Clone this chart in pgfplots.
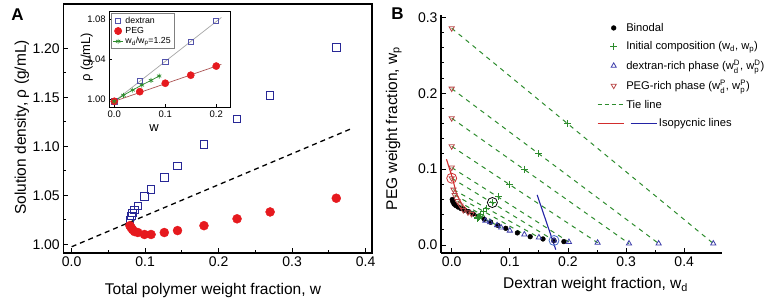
\documentclass[border=0pt]{standalone}
\usepackage{fontspec}
\setmainfont{Liberation Sans}
\usepackage{amsmath}
\usepackage{pgfplots}
\pgfplotsset{compat=1.18}
\definecolor{dexblue}{RGB}{40,40,150}
\definecolor{pegred}{RGB}{230,25,30}
\definecolor{tiegreen}{RGB}{45,140,45}
\definecolor{tridblue}{RGB}{60,60,170}
\definecolor{tribrown}{RGB}{185,70,70}
\definecolor{isored}{RGB}{210,45,45}
\definecolor{isoblue}{RGB}{35,35,165}
\definecolor{circblue}{RGB}{70,110,200}
\pgfplotsset{
 legB/.style={legend image code/.code={\path[draw=none,fill=none] (0pt,-2pt) rectangle (26pt,2pt); \draw[##1] plot coordinates {(16pt,0pt)};}},
 legBline/.style={legend image code/.code={\draw[##1] (0pt,0pt) -- (26pt,0pt);}},
 legBiso/.style={legend image code/.code={\draw[isored,line width=1.1pt] (0pt,0pt) -- (26pt,0pt); \draw[isoblue,line width=1.1pt,overlay] (33pt,0pt) -- (59pt,0pt);}},
}
\begin{document}
\begin{tikzpicture}
\path[use as bounding box] (0pt,0pt) rectangle (767pt,303pt);
% ---------------- Panel A main ----------------
\begin{axis}[
 at={(63.3pt,50pt)}, anchor=south west, scale only axis, width=308.7pt, height=249pt,
 xmin=-0.0114, xmax=0.4086, ymin=0.9911, ymax=1.2452,
 xtick={0,0.1,0.2,0.3,0.4}, ytick={1,1.05,1.1,1.15,1.2},
 minor x tick num=1, minor y tick num=1,
 tick pos=left, tick align=inside,
 major tick length=5pt, minor tick length=3pt,
 axis line style={line width=1.2pt},
 every tick/.style={black, line width=0.9pt},
 /pgf/number format/assume math mode=true,
 xticklabel style={/pgf/number format/fixed, /pgf/number format/fixed zerofill, /pgf/number format/precision=1},
 yticklabel style={/pgf/number format/fixed, /pgf/number format/fixed zerofill, /pgf/number format/precision=2},
 tick label style={font=\fontsize{14}{16}\selectfont},
 label style={font=\fontsize{15.5}{18}\selectfont},
 xlabel={Total polymer weight fraction, w},
 ylabel={Solution density, ρ (g/mL)},
 xlabel style={at={(axis description cs:0.485,-0.149)}, anchor=center},
 ylabel style={at={(axis description cs:-0.134,0.504)}, anchor=center},
]
\addplot[black, line width=1.3pt, dash pattern=on 5pt off 4pt] coordinates {(0,0.9975)(0.3796,1.1177)};
\addplot[only marks, mark=square, mark size=3.8pt, dexblue, mark options={line width=0.9pt}] table {
x y
0.360 1.201
0.270 1.152
0.225 1.128
0.180 1.102
0.144 1.080
0.126 1.068
0.108 1.056
0.099 1.049
0.090 1.039
0.0855 1.035
0.0828 1.032
0.0810 1.029
0.0792 1.025
};
\addplot[only marks, mark=*, mark size=4.5pt, pegred] table {
x y
0.360 1.047
0.270 1.033
0.225 1.026
0.180 1.019
0.144 1.014
0.126 1.012
0.108 1.010
0.099 1.010
0.090 1.012
0.0855 1.013
0.0828 1.015
0.0810 1.017
0.0792 1.019
};
\end{axis}
% ---------------- Panel A inset ----------------
\begin{axis}[
 at={(109.3pt,195.7pt)}, anchor=south west, scale only axis, width=120.7pt, height=96.3pt,
 xmin=-0.0098, xmax=0.227, ymin=0.992, ymax=1.088,
 xtick={0,0.1,0.2}, ytick={1,1.04,1.08},
 tick pos=left, tick align=inside, major tick length=3pt,
 axis background/.style={fill=white},
 axis line style={line width=0.9pt},
 every tick/.style={black, line width=0.7pt},
 /pgf/number format/assume math mode=true,
 xticklabel style={/pgf/number format/fixed, /pgf/number format/fixed zerofill, /pgf/number format/precision=1},
 yticklabel style={/pgf/number format/fixed, /pgf/number format/fixed zerofill, /pgf/number format/precision=2},
 tick label style={font=\fontsize{9.5}{11}\selectfont},
 label style={font=\fontsize{13}{15}\selectfont},
 xlabel={w}, ylabel={ρ (g/mL)},
 xlabel style={at={(axis description cs:0.37,-0.215)}, anchor=center},
 ylabel style={at={(axis description cs:-0.187,0.52)}, anchor=center},
 legend style={at={(axis description cs:0.014,0.979)}, anchor=north west, draw=gray, line width=0.6pt,
   font=\fontsize{8.8}{10}\selectfont, inner sep=1.5pt, row sep=-1.5pt},
 legend cell align=left,
 legend image code/.code={\draw[mark repeat=2,mark phase=2,#1] plot coordinates {(0pt,0pt)(5pt,0pt)(10pt,0pt)};},
]
\addplot[gray!70, line width=0.7pt, forget plot] coordinates {(0,0.998)(0.21,1.0815)};
\addplot[red!35!gray, line width=0.7pt, forget plot] coordinates {(0,0.998)(0.21,1.0348)};
\addplot[only marks, mark=square, mark size=2.6pt, dexblue!80, mark options={line width=0.7pt}] table {
x y
0 0.998
0.05 1.0185
0.10 1.0374
0.15 1.0573
0.20 1.0779
};
\addlegendentry{dextran}
\addplot[only marks, mark=*, mark size=3.6pt, pegred] table {
x y
0 0.998
0.05 1.0076
0.10 1.0160
0.15 1.0240
0.20 1.0331
};
\addlegendentry{PEG}
\addplot[tiegreen, line width=0.7pt, mark=asterisk, mark size=2.5pt] table {
x y
0 0.998
0.018 1.0040
0.036 1.0092
0.054 1.0142
0.072 1.0188
0.088 1.0232
};
\addlegendentry{w$_{\text{d}}$/w$_{\text{p}}$=1.25}
\end{axis}
% ---------------- Panel B ----------------
\begin{axis}[
 at={(441pt,50pt)}, anchor=south west, scale only axis, width=281pt, height=238pt,
 xmin=-0.0184, xmax=0.465, ymin=-0.0105, ymax=0.303,
 axis lines*=left, axis line style={line width=1.2pt, -},
 xtick={0,0.1,0.2,0.3,0.4}, ytick={0,0.1,0.2,0.3},
 minor x tick num=1, minor y tick num=4,
 tick align=inside, major tick length=5pt, minor tick length=3pt,
 every tick/.style={black, line width=0.9pt},
 /pgf/number format/assume math mode=true,
 xticklabel style={/pgf/number format/fixed, /pgf/number format/fixed zerofill, /pgf/number format/precision=1},
 yticklabel style={/pgf/number format/fixed, /pgf/number format/fixed zerofill, /pgf/number format/precision=1},
 tick label style={font=\fontsize{14}{16}\selectfont},
 label style={font=\fontsize{15.5}{18}\selectfont},
 xlabel={Dextran weight fraction, w\textsubscript{d}},
 ylabel={PEG weight fraction, w\textsubscript{p}},
 xlabel style={at={(axis description cs:0.55,-0.134)}, anchor=center},
 ylabel style={at={(axis description cs:-0.168,0.523)}, anchor=center},
 legend style={at={(axis description cs:0.555,0.975)}, anchor=north west, draw=none, fill=none,
   font=\fontsize{11.2}{13.2}\selectfont, row sep=5pt, inner sep=0pt},
 legend cell align=left,
]
% tie lines
\addplot[tiegreen, line width=1pt, dash pattern=on 4.5pt off 4.5pt, forget plot] coordinates {(0,0.2855)(0.45,0.002)};
\addplot[tiegreen, line width=1pt, dash pattern=on 4.5pt off 4.5pt, forget plot] coordinates {(0,0.206)(0.356,0.002)};
\addplot[tiegreen, line width=1pt, dash pattern=on 4.5pt off 4.5pt, forget plot] coordinates {(0,0.167)(0.305,0.002)};
\addplot[tiegreen, line width=1pt, dash pattern=on 4.5pt off 4.5pt, forget plot] coordinates {(0,0.130)(0.251,0.003)};
\addplot[tiegreen, line width=1pt, dash pattern=on 4.5pt off 4.5pt, forget plot] coordinates {(0,0.102)(0.2017,0.004)};
\addplot[tiegreen, line width=1pt, dash pattern=on 4.5pt off 4.5pt, forget plot] coordinates {(0,0.088)(0.176,0.006)};
\addplot[tiegreen, line width=1pt, dash pattern=on 4.5pt off 4.5pt, forget plot] coordinates {(0.003,0.073)(0.150,0.010)};
\addplot[tiegreen, line width=1pt, dash pattern=on 4.5pt off 4.5pt, forget plot] coordinates {(0.005,0.066)(0.125,0.014)};
\addplot[tiegreen, line width=1pt, dash pattern=on 4.5pt off 4.5pt, forget plot] coordinates {(0.010,0.058)(0.100,0.019)};
\addplot[tiegreen, line width=1pt, dash pattern=on 4.5pt off 4.5pt, forget plot] coordinates {(0.015,0.052)(0.085,0.023)};
\addplot[tiegreen, line width=1pt, dash pattern=on 4.5pt off 4.5pt, forget plot] coordinates {(0.020,0.046)(0.078,0.026)};
\addplot[tiegreen, line width=1pt, dash pattern=on 4.5pt off 4.5pt, forget plot] coordinates {(0.028,0.043)(0.066,0.030)};
\addplot[tiegreen, line width=1pt, dash pattern=on 4.5pt off 4.5pt, forget plot] coordinates {(0.034,0.041)(0.058,0.032)};
% binodal
\addplot[only marks, mark=*, mark size=2.4pt, black, forget plot] table {
x y
0.001 0.060
0.002 0.057
0.004 0.054
0.007 0.052
0.011 0.050
0.016 0.048
0.022 0.046
0.029 0.044
0.037 0.041
0.046 0.038
0.056 0.034
0.067 0.030
0.079 0.026
0.093 0.022
0.113 0.016
0.135 0.011
0.157 0.008
0.176 0.006
0.193 0.0045
};
% initial compositions
\addplot[only marks, mark=+, mark size=3.5pt, tiegreen, mark options={line width=1pt}, forget plot] table {
x y
0.200 0.160
0.150 0.120
0.125 0.100
0.100 0.080
0.080 0.064
0.070 0.056
0.060 0.048
0.055 0.044
0.050 0.040
0.0475 0.038
0.046 0.0368
0.045 0.036
0.044 0.0352
};
% dextran-rich phase
\addplot[only marks, mark=triangle, mark size=3pt, tridblue, mark options={line width=0.8pt}, forget plot] table {
x y
0.450 0.002
0.356 0.002
0.305 0.002
0.251 0.003
0.2017 0.004
0.176 0.006
0.150 0.010
0.125 0.014
0.100 0.019
0.085 0.023
0.078 0.026
0.066 0.030
0.058 0.032
};
% PEG-rich phase
\addplot[only marks, mark=triangle, mark size=3pt, tribrown, mark options={rotate=180, line width=0.8pt}, forget plot] table {
x y
0 0.2855
0 0.206
0 0.167
0 0.130
0 0.102
0 0.088
0.003 0.073
0.005 0.066
0.010 0.058
0.015 0.052
0.020 0.046
0.028 0.043
0.034 0.041
};
% isopycnic lines
\addplot[isored, line width=1.1pt, forget plot] coordinates {(-0.009,0.113)(0.001,0.089)(0.008,0.068)(0.018,0.053)(0.030,0.044)(0.042,0.038)};
\addplot[isoblue, line width=1.1pt, forget plot] coordinates {(0.147,0.066)(0.179,-0.006)};
% highlighted points
\addplot[only marks, mark=o, mark size=5pt, black, mark options={line width=0.8pt}, forget plot] coordinates {(0.070,0.056)};
\addplot[only marks, mark=o, mark size=5pt, isored, mark options={line width=0.8pt}, forget plot] coordinates {(0.0,0.088)};
\addplot[only marks, mark=o, mark size=5pt, circblue, mark options={line width=0.8pt}, forget plot] coordinates {(0.176,0.006)};
% legend
\addlegendimage{only marks, mark=*, mark size=2.4pt, black, legB}
\addlegendentry{Binodal}
\addlegendimage{only marks, mark=+, mark size=3.5pt, tiegreen, mark options={line width=1pt}, legB}
\addlegendentry{Initial composition (w$_{\text{d}}$, w$_{\text{p}}$)}
\addlegendimage{only marks, mark=triangle, mark size=3pt, tridblue, mark options={line width=0.8pt}, legB}
\addlegendentry{dextran-rich phase (w$_{\text{d}}^{\text{D}}$, w$_{\text{p}}^{\text{D}}$)}
\addlegendimage{only marks, mark=triangle, mark size=3pt, tribrown, mark options={rotate=180, line width=0.8pt}, legB}
\addlegendentry{PEG-rich phase (w$_{\text{d}}^{\text{P}}$, w$_{\text{p}}^{\text{P}}$)}
\addlegendimage{tiegreen, line width=1pt, dash pattern=on 4pt off 3pt, legBline}
\addlegendentry{Tie line}
\addlegendimage{legBiso}
\addlegendentry{\hspace*{32.7pt}Isopycnic lines}
\end{axis}
\node[font=\bfseries\fontsize{17}{19}\selectfont] at (17.5pt,288.5pt) {A};
\node[font=\bfseries\fontsize{17}{19}\selectfont] at (397.5pt,289pt) {B};
\end{tikzpicture}
\end{document}
